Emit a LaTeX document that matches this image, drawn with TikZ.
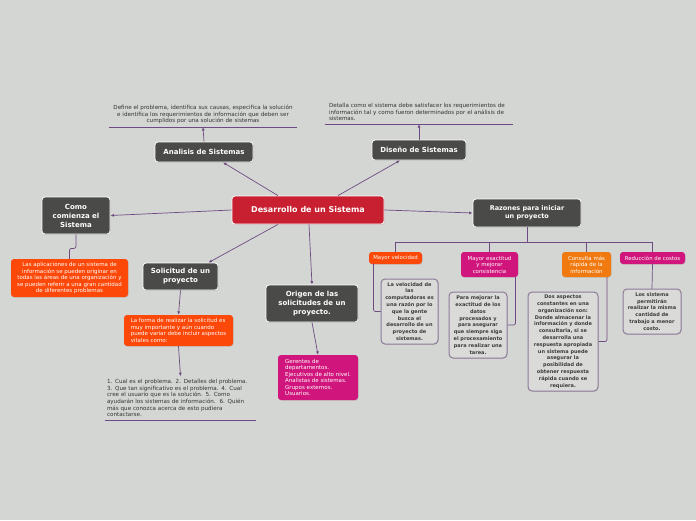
\documentclass[tikz,border=0pt]{standalone}
\usepackage{fontspec}
\setmainfont{DejaVu Sans}
\usetikzlibrary{arrows.meta,shadows}

\definecolor{bgcol}{RGB}{212,214,211}
\definecolor{boxgray}{RGB}{74,74,72}
\definecolor{mainred}{RGB}{200,32,48}
\definecolor{brightorange}{RGB}{252,72,8}
\definecolor{softorange}{RGB}{240,122,16}
\definecolor{magentabox}{RGB}{208,22,124}
\definecolor{linkcol}{RGB}{110,75,130}
\definecolor{noteedge}{RGB}{140,122,152}
\definecolor{notefill}{RGB}{218,218,216}
\definecolor{notetext}{RGB}{60,60,60}

\tikzset{
  topic/.style={fill=boxgray, draw=white, line width=0.8pt, rounded corners=3pt,
    text=white, font=\bfseries\fontsize{7}{9}\selectfont, align=center, inner sep=0pt,
    drop shadow={opacity=0.3, shadow xshift=0.6pt, shadow yshift=-0.8pt}},
  colbox/.style={draw=none, rounded corners=3pt, text=white,
    font=\fontsize{5.5}{6.5}\selectfont, align=center, inner sep=0pt,
    drop shadow={opacity=0.25, shadow xshift=0.5pt, shadow yshift=-0.7pt}},
  note/.style={fill=notefill, draw=noteedge, line width=1pt, rounded corners=4pt,
    text=notetext, font=\bfseries\fontsize{5}{6.8}\selectfont, align=center, inner sep=0pt,
    drop shadow={opacity=0.2, shadow xshift=0.5pt, shadow yshift=-0.7pt}},
  plaintext/.style={font=\fontsize{5.6}{6.6}\selectfont, text=black!80, inner ysep=3pt},
  link/.style={draw=linkcol, line width=0.7pt},
  arrowlink/.style={link, -{Latex[length=3.5pt,width=3pt]}}
}

\begin{document}
\begin{tikzpicture}[x=1pt,y=-1pt]
    % Background
    \fill[bgcol] (0,0) rectangle (696,520);
    \useasboundingbox (0,0) rectangle (696,520);

    % Main topics
    \node[topic, fill=mainred, font=\bfseries\fontsize{8}{10}\selectfont, minimum width=152, minimum height=28] (dev) at (308,210) {Desarrollo de un Sistema};
    \node[topic, minimum width=98, minimum height=20] (ana) at (204,152) {Analisis de Sistemas};
    \node[topic, minimum width=94, minimum height=20] (dis) at (419,150) {Diseño de Sistemas};
    \node[topic, minimum width=68, minimum height=37] (como) at (76,215.5) {Como\\comienza el\\Sistema};
    \node[topic, minimum width=75, minimum height=27] (sol) at (180.5,276.5) {Solicitud de un\\proyecto};
    \node[topic, minimum width=92, minimum height=37] (ori) at (312,303.5) {Origen de las\\solicitudes de un\\proyecto.};
    \node[topic, font=\bfseries\fontsize{6.5}{8}\selectfont, minimum width=108, minimum height=28] (raz) at (527,213) {Razones para iniciar\\un proyecto};

    % Descriptions with underline
    \node[plaintext, anchor=south, text width=188, inner xsep=0pt, align=center] (anatxt) at (203,127) {Define el problema, identifica sus causas, especifica la solución\\e identifica los requerimientos de información que deben ser\\cumplidos por una solución de sistemas};
    \node[plaintext, anchor=south, text width=180, inner xsep=4pt, align=left] (distxt) at (419,124) {Detalla como el sistema debe satisfacer los requerimientos de\\información tal y como fueron determinados por el análisis de\\sistemas.};
    \node[plaintext, anchor=south, text width=147, inner xsep=2pt, align=left] (pasos) at (180.5,420) {1. Cual es el problema. 2. Detalles del problema.\\3. Que tan significativo es el problema. 4. Cual\\cree el usuario que es la solución. 5. Como\\ayudarán los sistemas de información.\ \ 6. Quién\\más que conozca acerca de esto pudiera\\contactarse.};
    \draw[link] (anatxt.south west) -- (anatxt.south east);
    \draw[link] (distxt.south west) -- (distxt.south east);
    \draw[link] (pasos.south west) -- (pasos.south east);

    % Coloured boxes
    \node[colbox, fill=brightorange, minimum width=117, minimum height=38] (apl) at (69.5,278) {Las aplicaciones de un sistema de\\información se pueden originar en\\todas las áreas de una organización y\\se pueden referir a una gran cantidad\\de diferentes problemas};
    \node[colbox, fill=brightorange, align=left, minimum width=109, minimum height=31] (forma) at (178.5,330.5) {La forma de realizar la solicitud es\\muy importante y aún cuando\\puede variar debe incluir aspectos\\vitales como:};
    \node[colbox, fill=magentabox, align=left, minimum width=80, minimum height=45] (gru) at (318,377.5) {Gerentes de\\departamentos.\\Ejecutivos de alto nivel.\\Analistas de sistemas.\\Grupos externos.\\Usuarios.};

    % Reasons
    \node[colbox, fill=brightorange, font=\fontsize{5.4}{6.5}\selectfont, minimum width=53, minimum height=12] (vel) at (395.5,258) {Mayor velocidad};
    \node[colbox, fill=magentabox, font=\fontsize{5.4}{6.5}\selectfont, minimum width=57, minimum height=25] (exa) at (489.5,264.5) {Mayor exactitud\\y mejorar\\consistencia};
    \node[colbox, fill=softorange, font=\fontsize{5.4}{6.5}\selectfont, minimum width=49, minimum height=25] (con) at (586.5,264.5) {Consulta más\\rápida de la\\información};
    \node[colbox, fill=magentabox, font=\fontsize{5.4}{6.5}\selectfont, minimum width=65, minimum height=12] (cos) at (652.5,258) {Reducción de costos};

    % Notes
    \node[note, minimum width=57, minimum height=65] (velnote) at (409.5,311.5) {La velocidad de\\las\\computadoras es\\una razón por lo\\que la gente\\busca el\\desarrollo de un\\proyecto de\\sistemas.};
    \node[note, minimum width=58, minimum height=66] (exanote) at (478,325) {Para mejorar la\\exactitud de los\\datos\\procesados y\\para asegurar\\que siempre siga\\el procesamiento\\para realizar una\\tarea.};
    \node[note, minimum width=70, minimum height=99] (connote) at (563,341.5) {Dos aspectos\\constantes en una\\organización son:\\Donde almacenar la\\información y donde\\consultarla, si se\\desarrolla una\\respuesta apropiada\\un sistema puede\\asegurar la\\posibilidad de\\obtener respuesta\\rápida cuando se\\requiera.};
    \node[note, minimum width=58, minimum height=45] (cosnote) at (652,311.5) {Los sistema\\permitirán\\realizar la misma\\cantidad de\\trabajo a menor\\costo.};

    % Links from the main topic
    \draw[arrowlink] ([xshift=-30pt]dev.north) -- ([xshift=19pt]ana.south);
    \draw[arrowlink] ([xshift=30pt]dev.north) -- ([xshift=-19pt]dis.south);
    \draw[arrowlink] (dev.west) -- (como.east);
    \draw[arrowlink] ([xshift=-30pt]dev.south) -- ([xshift=28pt]sol.north);
    \draw[arrowlink] ([xshift=1pt]dev.south) -- (ori.north);
    \draw[arrowlink] (dev.east) -- (raz.west);

    % Links to details
    \draw[arrowlink] (ana.north) -- (anatxt.south);
    \draw[arrowlink] (dis.north) -- (distxt.south);
    \draw[arrowlink] (sol.south) -- (forma.north);
    \draw[arrowlink] (forma.south) -- (pasos.north);
    \draw[arrowlink] (ori.south) -- (gru.north);
    \draw[link, rounded corners=2pt] (como.south) -- ++(0,14) -| (apl.north);

    % Tree of reasons
    \draw[link] (raz.south) -- ++(0,15) coordinate (fork);
    \draw[link] (vel.north) |- (fork) -| (cos.north);
    \draw[link] (exa.north) |- (fork);
    \draw[link] (con.north) |- (fork);
    \draw[link, rounded corners=2pt] ([xshift=-22pt]vel.south) |- (velnote.west);
    \draw[link, rounded corners=2pt] ([xshift=26pt]exa.south) |- (exanote.east);
    \draw[link, rounded corners=2pt] ([xshift=20.5pt]con.south) |- (connote.east);
    \draw[link] (cos.south) -- (cosnote.north);
\end{tikzpicture}
\end{document}
